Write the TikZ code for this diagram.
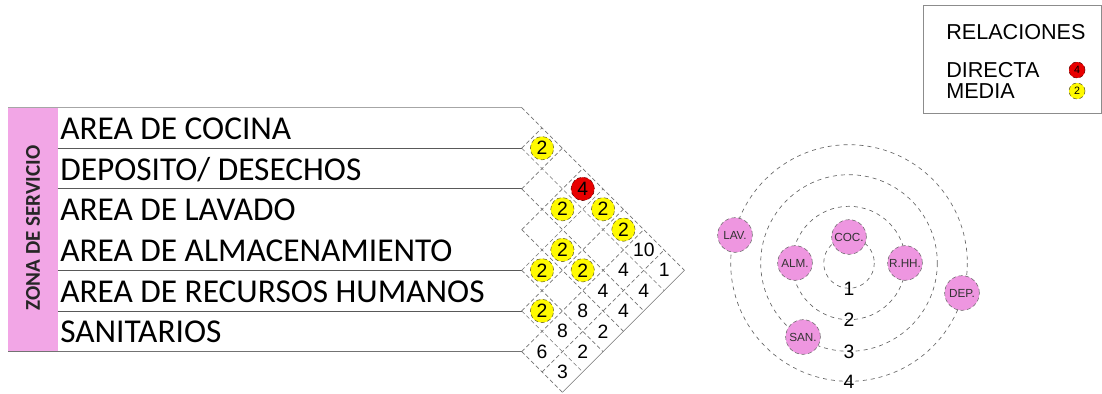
\documentclass[tikz,border=0pt]{standalone}
\usepackage{fontspec}
\setmainfont{Liberation Sans}
\newfontfamily\rowfont{Carlito}
\definecolor{zonapink}{RGB}{242,166,230}
\definecolor{burbuja}{RGB}{238,150,224}
\definecolor{amarillo}{RGB}{255,250,0}
\definecolor{rojo}{RGB}{232,0,0}
\tikzset{
  rowline/.style={black!65, line width=0.7pt},
  gridline/.style={black!55, line width=0.5pt, densely dashed},
  rowlabel/.style={anchor=base west, inner sep=0pt, font=\rowfont\fontsize{25}{28}\selectfont},
  num/.style={inner sep=0pt, font=\fontsize{14.5}{16}\selectfont},
  media/.style={num, circle, fill=amarillo, draw=olive!60!black, densely dashed, minimum size=17.5pt},
  directa/.style={media, fill=rojo, draw=red!40!black},
  ring/.style={black!60, line width=0.5pt, dashed},
  bubble/.style={circle, fill=burbuja, draw=black!60, densely dashed, minimum size=26pt, inner sep=0pt,
    font=\fontsize{8.8}{9}\selectfont, text=black!80}
}
\begin{document}
\begin{tikzpicture}[x=0.75pt,y=-0.75pt]
\useasboundingbox (0,0) rectangle (1102,393);
% Zona
\fill[zonapink] (8,107.5) rectangle (57.5,351.7);
\node[rotate=90, font=\rowfont\bfseries\fontsize{15.8}{18}\selectfont, text=black!85] (zona) at (33,228) {ZONA DE SERVICIO};
\draw[black!35, line width=0.7pt] (8,107.5) -- (521.7,107.5);
\draw[black!55, line width=0.7pt] (8,351.7) -- (521.7,351.7);
\foreach \y in {148.2,188.9,270.3,311}
  \draw[rowline] (57.5,\y) -- (521.7,\y);
\foreach \t [count=\k] in {AREA DE COCINA,DEPOSITO/ DESECHOS,AREA DE LAVADO,AREA DE ALMACENAMIENTO,AREA DE RECURSOS HUMANOS,SANITARIOS}
  \node[rowlabel] (fila\k) at (60,{107.5+40.7*\k-20.35+11.5}) {\t};
% Matrix
\begin{scope}[shift={(521.7,107.5)}, x=15.26pt, y=-15.26pt]
\foreach \k in {0,...,6}
  \draw[gridline] (0,{2*\k}) -- ({8-\k},{8+\k});
\foreach \k in {1,...,6}
  \draw[gridline] (0,{2*\k}) -- (\k,\k);
\draw[gridline] (1,13) -- (7,7);
\draw[black!55, line width=0.5pt] (2,14) -- (8,8);
\node[directa] (m14) at (3,4) {4};
\foreach \i/\j in {1/2,2/4,1/5,1/6,3/5,4/5,3/6,5/6}
  \node[media] (m\i\j) at ({\j-\i},{\i+\j-1}) {2};
% Totals and order
\foreach \i/\v in {1/10,2/4,3/4,4/8,5/8,6/6}
  \node[num] (tot\i) at ({7-\i},{\i+6}) {\v};
\foreach \i/\v in {1/1,2/4,3/4,4/2,5/2,6/3}
  \node[num] (ord\i) at ({8-\i},{\i+7}) {\v};
\end{scope}
% Rings
\draw[ring] (849,263) circle[radius=25.3];
\draw[ring] (849,263) circle[radius=56.7];
\draw[ring] (849,263) circle[radius=88.3];
\draw[ring] (849,263) circle[radius=118.3];
\node[num] (n1) at (849,289) {1};
\node[num] (n2) at (849,320) {2};
\node[num] (n3) at (849,351.6) {3};
\node[num] (n4) at (849,382) {4};
\node[bubble] (coc) at (849,237) {COC.};
\node[bubble] (alm) at (795,263) {ALM.};
\node[bubble] (rhh) at (905,263) {R.HH.};
\node[bubble] (lav) at (735,235) {LAV.};
\node[bubble] (dep) at (962,293) {DEP.};
\node[bubble] (san) at (803,337) {SAN.};
% Legend
\draw[black!45, line width=0.7pt] (923,5) rectangle (1101,113);
\node[anchor=west, inner sep=0pt, font=\fontsize{16.2}{18}\selectfont] (rel) at (946,32) {RELACIONES};
\node[anchor=west, inner sep=0pt, font=\fontsize{16.2}{18}\selectfont] (dir) at (946,70) {DIRECTA};
\node[anchor=west, inner sep=0pt, font=\fontsize{16.2}{18}\selectfont] (med) at (946,91) {MEDIA};
\node[directa, minimum size=12pt, font=\fontsize{8}{9}\selectfont] (legdir) at (1077,70) {4};
\node[media, minimum size=12pt, font=\fontsize{8}{9}\selectfont] (legmed) at (1077,91) {2};
\end{tikzpicture}
\end{document}
